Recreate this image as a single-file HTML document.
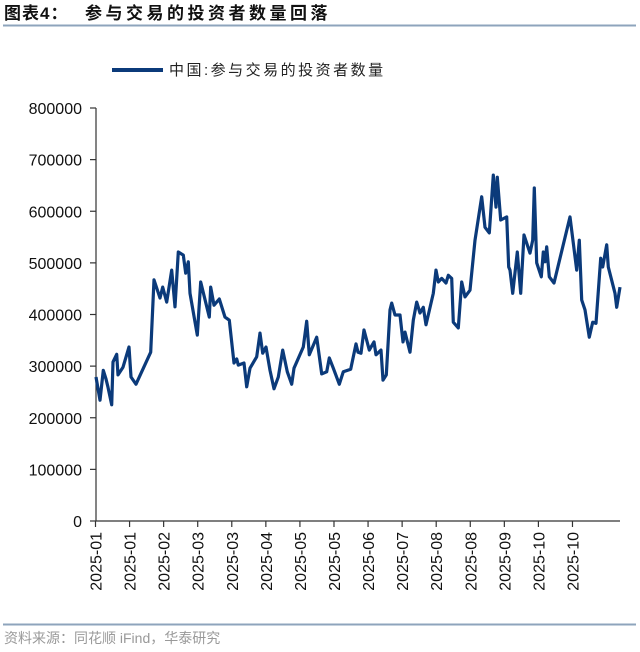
<!DOCTYPE html>
<html><head><meta charset="utf-8">
<style>
html,body{margin:0;padding:0;background:#fff;width:640px;height:652px;overflow:hidden}
text{font-family:"Liberation Sans","Noto Sans CJK SC",sans-serif}
</style></head>
<body>
<svg id="chart" width="640" height="652" viewBox="0 0 640 652" xmlns="http://www.w3.org/2000/svg">
  <text x="4" y="19" font-size="17" font-weight="bold" fill="#111"><tspan letter-spacing="1">图表4：</tspan><tspan x="85" letter-spacing="3.5">参与交易的投资者数量回落</tspan></text>
  <line x1="3" y1="25.5" x2="636" y2="25.5" stroke="#8ea4bc" stroke-width="2"/>
  <g>
    <line x1="112" y1="70" x2="163" y2="70" stroke="#0b3a7a" stroke-width="4"/>
    <text x="169" y="75" font-size="15" letter-spacing="2.5" fill="#222">中国:参与交易的投资者数量</text>
  </g>
  <g id="axes"></g>
  <g id="series"></g>
  <line x1="3" y1="624.5" x2="636" y2="624.5" stroke="#8ea4bc" stroke-width="2"/>
  <text x="4" y="643" font-size="14" fill="#999">资料来源：同花顺 iFind，华泰研究</text>
</svg>
<script>
const yTicks = [0,100000,200000,300000,400000,500000,600000,700000,800000];
const xTickLabels = ["2025-01","2025-01","2025-02","2025-03","2025-03","2025-04","2025-05","2025-05","2025-06","2025-07","2025-08","2025-08","2025-09","2025-10","2025-10"];
const obsPos = [0,4,7.3,10,12,15.7,17,20.7,22,27,33,35,40,54.7,58,64,66.7,70.7,75.7,79,82.3,87.3,89.7,92.3,94,101.3,104.7,113.3,114.7,118,123.3,129,133.3,138,140.7,142.3,148,150.7,154,160.7,164,166.7,170,174,178,182.3,186.7,191.3,195.7,198,207.3,210.7,213.3,220.7,225.7,230.7,233.3,237.3,243.3,247.3,254.7,260,262,265,268,273.3,278,280,285,287,290.3,294,295.7,299,304,307,309,314,317.3,320.7,324,327.3,330,337.3,340,342.3,345.7,350,352.3,355.7,357.3,362.3,365.7,369,374,377.3,379,385.7,389,393.3,397.3,400,401.3,404.7,410.7,412.7,414,416.7,421.3,424.7,428,434,436.7,438.3,440.7,445.3,447.3,449,450.7,453.3,458,474,480.7,483.3,485.7,489,493.3,496.7,500,504.7,506.7,510.7,512.3,519,520.7,524];
const investors = [279000,234000,292000,275000,259000,225000,308000,323000,283000,298000,337000,279000,265000,327000,467000,432000,453000,424000,486000,415000,521000,515000,480000,502000,441000,360000,463000,395000,453000,418000,430000,395000,389000,306000,314000,302000,306000,260000,296000,318000,364000,325000,337000,292000,256000,279000,331000,289000,265000,296000,337000,387000,322000,356000,285000,289000,316000,296000,265000,289000,294000,343000,327000,325000,370000,331000,347000,322000,331000,273000,283000,409000,422000,399000,399000,347000,366000,327000,389000,424000,403000,414000,380000,441000,486000,463000,470000,461000,476000,470000,385000,374000,463000,434000,447000,511000,544000,628000,569000,558000,670000,608000,666000,583000,589000,492000,486000,441000,521000,441000,554000,519000,544000,645000,500000,473000,521000,502000,531000,473000,461000,589000,486000,544000,428000,409000,356000,385000,383000,509000,492000,535000,492000,441000,414000,453000];

const X0=96, X1=620, Y0=521, Y1=108;
const yScale = v => Y0 - (v/800000)*(Y0-Y1);
const xScale = p => X0 + (p/524)*(X1-X0);
const tickX = i => 95.5 + i*34.07;
const NS="http://www.w3.org/2000/svg";
const axes=document.getElementById('axes');
function mk(tag,attrs,parent){const e=document.createElementNS(NS,tag);for(const k in attrs)e.setAttribute(k,attrs[k]);parent.appendChild(e);return e;}

let yAxis=mk('line',{x1:96,y1:Y1,x2:96,y2:Y0,stroke:'#333','stroke-width':1.2},axes);


let xAxis=mk('line',{x1:96,y1:Y0,x2:X1,y2:Y0,stroke:'#333','stroke-width':1.2},axes);



yTicks.forEach(v=>{
  const y=yScale(v);
  const t=mk('line',{x1:90,y1:y,x2:96,y2:y,stroke:'#333','stroke-width':1.2},axes);
  
  
  const l=mk('text',{x:82,y:y+6,'font-size':16,'text-anchor':'end',fill:'#111'},axes);
  l.textContent=String(v);
  
  
});
xTickLabels.forEach((s,i)=>{
  const x=tickX(i);
  const t=mk('line',{x1:x,y1:Y0,x2:x,y2:Y0+6,stroke:'#333','stroke-width':1.2},axes);
  
  
  const l=mk('text',{x:x+6,y:532,'font-size':16,'text-anchor':'end',fill:'#111',transform:`rotate(-90 ${x+6} 532)`},axes);
  l.textContent=s;
  
  
});
const d=investors.map((v,i)=>(i?'L':'M')+xScale(obsPos[i]).toFixed(1)+','+yScale(v).toFixed(1)).join(' ');
const path=mk('path',{d:d,fill:'none',stroke:'#0b3a7a','stroke-width':3.2,'stroke-linejoin':'round'},document.getElementById('series'));


</script>
</body></html>
